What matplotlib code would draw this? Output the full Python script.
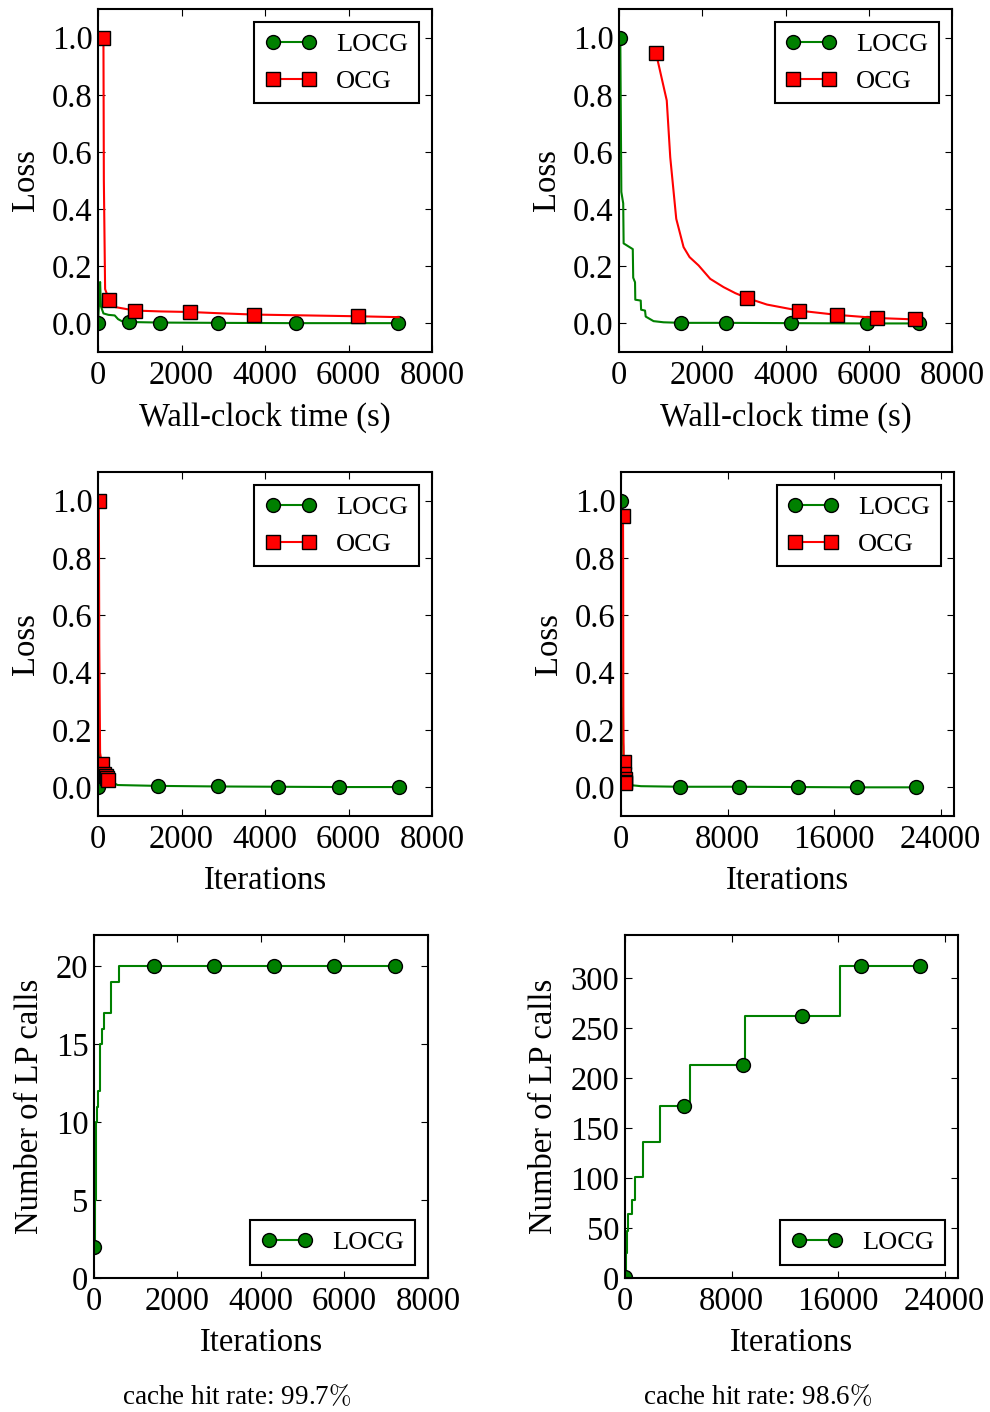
import matplotlib
matplotlib.use("Agg")
import matplotlib.pyplot as plt

plt.rcParams['font.family'] = ['Liberation Serif', 'DejaVu Serif']
plt.rcParams['mathtext.fontset'] = 'cm'
plt.rcParams['font.size'] = 23.5
plt.rcParams['axes.linewidth'] = 1.5
plt.rcParams['xtick.direction'] = 'in'
plt.rcParams['ytick.direction'] = 'in'
plt.rcParams['xtick.top'] = True
plt.rcParams['ytick.right'] = True
plt.rcParams['xtick.major.size'] = 5
plt.rcParams['ytick.major.size'] = 5
plt.rcParams['xtick.major.pad'] = 6
plt.rcParams['ytick.major.pad'] = 4
plt.rcParams['axes.labelpad'] = 8

# ---- run A (left column) ----
locg_time_a = [0, 50, 70, 130, 250, 400, 480, 570, 742, 1485, 2875, 4740, 7190]
locg_iter_a = [0, 30, 45, 90, 180, 300, 380, 470, 1440, 2880, 4320, 5760, 7200]
locg_loss_a = [0.0, 0.145, 0.06, 0.035, 0.03, 0.028, 0.015, 0.008, 0.005, 0.003, 0.002, 0.001, 0.001]
locg_marks_a = [0, 8, 9, 10, 11, 12]

ocg_time_a = [130, 140, 170, 263, 420, 886, 1500, 2204, 3000, 3745, 5000, 6228, 7200]
ocg_iter_a = [20, 30, 50, 90, 120, 150, 170, 190, 205, 215, 225, 230, 240]
ocg_loss_a = [1.0, 0.5, 0.12, 0.083, 0.057, 0.045, 0.042, 0.040, 0.035, 0.031, 0.028, 0.025, 0.022]
ocg_marks_a = [0, 3, 5, 7, 9, 11]

lp_iter_a = [0, 30, 60, 80, 100, 150, 200, 240, 420, 600, 1440, 2880, 4320, 5760, 7200]
lp_calls_a = [2, 5, 10, 11, 12, 15, 16, 17, 19, 20, 20, 20, 20, 20, 20]
lp_marks_a = [0, 10, 11, 12, 13, 14]

# ---- run B (right column) ----
locg_time_b = [30, 55, 100, 110, 330, 340, 384, 390, 521, 530, 624, 640, 829, 1069, 1485, 2570, 4138, 5966, 7215]
locg_iter_b = [0, 20, 40, 60, 120, 140, 160, 180, 240, 260, 320, 340, 650, 1500, 4430, 8860, 13290, 17720, 22150]
locg_loss_b = [1.0, 0.46, 0.42, 0.28, 0.26, 0.16, 0.144, 0.083, 0.080, 0.048, 0.045, 0.024, 0.008, 0.004,
               0.002, 0.002, 0.001, 0.0, 0.0]
locg_marks_b = [0, 14, 15, 16, 17, 18]

ocg_time_b = [889, 1146, 1230, 1374, 1550, 1694, 1910, 2190, 2511, 2792, 3072, 3553, 4313, 5233, 6193, 7116]
ocg_iter_b = [150, 160, 165, 170, 175, 180, 185, 190, 195, 198, 200, 215, 240, 270, 290, 310]
ocg_loss_b = [0.945, 0.780, 0.581, 0.366, 0.267, 0.232, 0.203, 0.156, 0.127, 0.106, 0.089, 0.066, 0.045,
              0.030, 0.019, 0.014]
ocg_marks_b = [0, 10, 12, 13, 14, 15]

lp_iter_b = [0, 75, 175, 250, 500, 750, 1375, 2625, 4430, 4875, 8860, 8975, 13290, 16175, 17720, 22150]
lp_calls_b = [1, 25, 47, 64, 78, 101, 136, 172, 172, 213, 213, 262, 262, 312, 312, 312]
lp_marks_b = [0, 8, 10, 12, 14, 15]

hit_rates = ["99.7", "98.6"]

fig = plt.figure(figsize=(9.9, 14.12), dpi=100)

# axes boxes in figure fractions
boxes = {
    (0, 0): [0.099, 0.7507, 0.3374, 0.2429],
    (0, 1): [0.6253, 0.7507, 0.3364, 0.2429],
    (1, 0): [0.099, 0.4221, 0.3374, 0.2436],
    (1, 1): [0.6273, 0.4221, 0.3364, 0.2436],
    (2, 0): [0.0949, 0.0949, 0.3374, 0.2429],
    (2, 1): [0.6313, 0.0949, 0.3364, 0.2429],
}

lstyle = dict(linewidth=1.5, markersize=10, markeredgecolor='k', markeredgewidth=1.0)


def add_legend(ax, loc):
    leg = ax.legend(loc=loc, numpoints=2, fancybox=False, framealpha=1,
                    handlelength=1.95, handletextpad=0.75, borderpad=0.4,
                    labelspacing=0.5, borderaxespad=0.5, fontsize=19)
    leg.get_frame().set_edgecolor('k')
    leg.get_frame().set_linewidth(1.5)


def loss_panel(ax, lx, ly, lm, ox, oy, om, xlabel, xmax, xticks):
    ax.plot(lx, ly, color='g', marker='o', markevery=lm, label='LOCG', **lstyle)
    ax.plot(ox, oy, color='r', marker='s', markevery=om, label='OCG', **lstyle)
    ax.set_xlim(0, xmax)
    ax.set_ylim(-0.1, 1.1)
    ax.set_xticks(xticks)
    ax.set_yticks([0.0, 0.2, 0.4, 0.6, 0.8, 1.0])
    ax.set_xlabel(xlabel)
    ax.set_ylabel('Loss')
    add_legend(ax, 'upper right')


ax = fig.add_axes(boxes[(0, 0)])
loss_panel(ax, locg_time_a, locg_loss_a, locg_marks_a, ocg_time_a, ocg_loss_a, ocg_marks_a,
           'Wall-clock time (s)', 8000, [0, 2000, 4000, 6000, 8000])
ax = fig.add_axes(boxes[(0, 1)])
loss_panel(ax, locg_time_b, locg_loss_b, locg_marks_b, ocg_time_b, ocg_loss_b, ocg_marks_b,
           'Wall-clock time (s)', 8000, [0, 2000, 4000, 6000, 8000])
ax = fig.add_axes(boxes[(1, 0)])
loss_panel(ax, locg_iter_a, locg_loss_a, locg_marks_a, ocg_iter_a, ocg_loss_a, ocg_marks_a,
           'Iterations', 8000, [0, 2000, 4000, 6000, 8000])
ax = fig.add_axes(boxes[(1, 1)])
loss_panel(ax, locg_iter_b, locg_loss_b, locg_marks_b, ocg_iter_b, ocg_loss_b, ocg_marks_b,
           'Iterations', 25000, [0, 8000, 16000, 24000])

# LP calls
ax = fig.add_axes(boxes[(2, 0)])
ax.plot(lp_iter_a, lp_calls_a, color='g', marker='o', markevery=lp_marks_a, drawstyle='steps-post',
        label='LOCG', **lstyle)
ax.set_xlim(0, 8000)
ax.set_ylim(0, 1.1 * max(lp_calls_a))
ax.set_xticks([0, 2000, 4000, 6000, 8000])
ax.set_yticks([0, 5, 10, 15, 20])
ax.set_xlabel('Iterations')
ax.set_ylabel('Number of LP calls')
add_legend(ax, 'lower right')

ax = fig.add_axes(boxes[(2, 1)])
ax.plot(lp_iter_b, lp_calls_b, color='g', marker='o', markevery=lp_marks_b, drawstyle='steps-post',
        label='LOCG', **lstyle)
ax.set_xlim(0, 25000)
ax.set_ylim(0, 1.1 * max(lp_calls_b))
ax.set_xticks([0, 8000, 16000, 24000])
ax.set_yticks([0, 50, 100, 150, 200, 250, 300])
ax.set_xlabel('Iterations')
ax.set_ylabel('Number of LP calls')
add_legend(ax, 'lower right')

fig.text(0.239, 0.0106, r'cache hit rate: %s$\%%$' % hit_rates[0], ha='center', va='center', fontsize=19.5)
fig.text(0.765, 0.0106, r'cache hit rate: %s$\%%$' % hit_rates[1], ha='center', va='center', fontsize=19.5)

fig.savefig('out.png', dpi=100)
